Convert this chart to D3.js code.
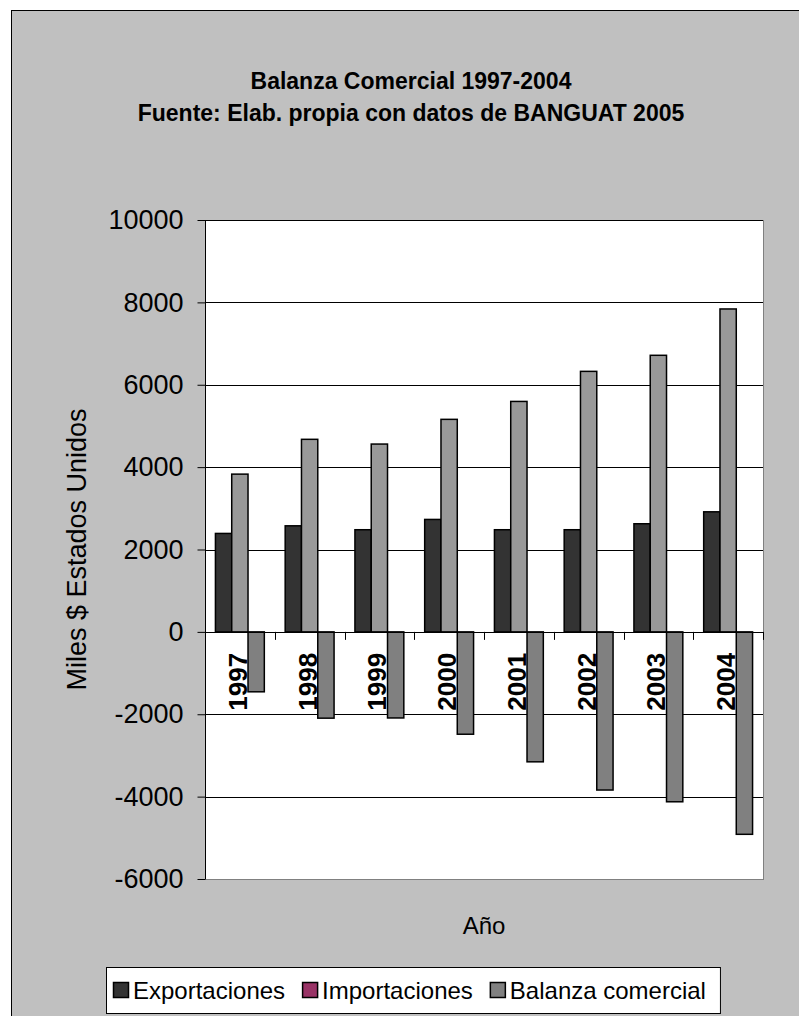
<!DOCTYPE html>
<html>
<head>
<meta charset="utf-8">
<script src="https://cdn.jsdelivr.net/npm/d3@7"></script>
<style>
  html, body { margin: 0; padding: 0; background: #ffffff; }
  svg { display: block; font-family: "Liberation Sans", Arial, sans-serif; }
</style>
</head>
<body>
<svg id="chart" width="799" height="1016"></svg>
<script>
// ---- data ----
const years = ["1997", "1998", "1999", "2000", "2001", "2002", "2003", "2004"];
const exportaciones = [2390, 2575, 2480, 2730, 2480, 2480, 2625, 2915];
const importaciones = [3830, 4675, 4560, 5160, 5595, 6325, 6715, 7840];
const balanza = [-1455, -2095, -2090, -2485, -3155, -3840, -4125, -4915];
const seriesNames = ["Exportaciones", "Importaciones", "Balanza comercial"];
const barColors = ["#333333", "#999999", "#808080"];
const legendColors = ["#333333", "#993366", "#808080"];
const yTicks = [-6000, -4000, -2000, 0, 2000, 4000, 6000, 8000, 10000];
const titleLines = ["Balanza Comercial 1997-2004", "Fuente: Elab. propia con datos de BANGUAT 2005"];
const yTitle = "Miles $ Estados Unidos";
const xTitle = "Año";

const seriesValues = [exportaciones, importaciones, balanza];

const svg = d3.select("#chart");

// chart area (extends past the right/bottom edge of the picture)
svg.append("rect")
  .attr("x", 11.5).attr("y", 10.5)
  .attr("width", 800).attr("height", 1020)
  .attr("fill", "#c0c0c0").attr("stroke", "#000").attr("stroke-width", 1);

const plot = { left: 205, right: 763, top: 220, bottom: 879 };

const x = d3.scaleBand().domain(years).range([plot.left, plot.right]).padding(0);
const xs = d3.scaleBand().domain(d3.range(3)).range([0, x.bandwidth()])
  .paddingInner(0).paddingOuter(0.64);
const y = d3.scaleLinear().domain([-6000, 10000]).range([plot.bottom, plot.top]);

// plot area
svg.append("rect")
  .attr("x", plot.left + 0.5).attr("y", plot.top + 0.5)
  .attr("width", plot.right - plot.left).attr("height", plot.bottom - plot.top)
  .attr("fill", "#ffffff").attr("stroke", "#808080").attr("stroke-width", 1);

// gridlines
svg.append("g").selectAll("line")
  .data(yTicks.filter(t => t !== 0 && t !== -6000))
  .join("line")
  .attr("x1", plot.left).attr("x2", plot.right)
  .attr("y1", d => Math.round(y(d)) + 0.5).attr("y2", d => Math.round(y(d)) + 0.5)
  .attr("stroke", "#000").attr("stroke-width", 1);

// bars
const barData = [];
years.forEach((yr, i) => {
  seriesValues.forEach((vals, s) => {
    barData.push({ year: yr, s: s, v: vals[i] });
  });
});
svg.append("g").selectAll("rect")
  .data(barData)
  .join("rect")
  .attr("x", d => x(d.year) + xs(d.s))
  .attr("width", xs.bandwidth())
  .attr("y", d => y(Math.max(0, d.v)))
  .attr("height", d => Math.abs(y(d.v) - y(0)))
  .attr("fill", d => barColors[d.s])
  .attr("stroke", "#000").attr("stroke-width", 1.5);

// y axis
const yAxis = d3.axisLeft(y).tickValues(yTicks).tickSize(8).tickPadding(14).tickFormat(d => String(d));
const gy = svg.append("g").attr("transform", `translate(${plot.left + 0.5},0)`).call(yAxis);
gy.select(".domain").attr("stroke", "#000").attr("d", `M0,${plot.top}V${plot.bottom}`);
gy.selectAll(".tick line").attr("stroke", "#000");
gy.selectAll(".tick text")
  .attr("font-size", 27).attr("fill", "#000")
  .attr("font-family", "'Liberation Sans', Arial, sans-serif");

// x axis on zero line
const xAxis = d3.axisBottom(x).tickSize(0).tickFormat("");
const gx = svg.append("g").attr("transform", `translate(0,${Math.round(y(0)) + 0.5})`).call(xAxis);
gx.select(".domain").attr("stroke", "#000").attr("d", `M${plot.left},0H${plot.right}`);
// category boundary tick marks
svg.append("g").selectAll("line")
  .data(years.concat(["end"]))
  .join("line")
  .attr("x1", (d, i) => Math.round(plot.left + i * x.step()) + 0.5)
  .attr("x2", (d, i) => Math.round(plot.left + i * x.step()) + 0.5)
  .attr("y1", y(0)).attr("y2", y(0) + 8)
  .attr("stroke", "#000").attr("stroke-width", 1);

// rotated year labels
svg.append("g").selectAll("text")
  .data(years)
  .join("text")
  .attr("transform", d => `translate(${x(d) + x.bandwidth() / 2 + 7},${y(0) + 21}) rotate(-90)`)
  .attr("text-anchor", "end")
  .attr("font-size", 26).attr("font-weight", "bold").attr("fill", "#000")
  .text(d => d);

// titles
svg.append("g").selectAll("text")
  .data(titleLines)
  .join("text")
  .attr("x", 411).attr("y", (d, i) => 89 + i * 32)
  .attr("text-anchor", "middle")
  .attr("font-size", 23).attr("font-weight", "bold").attr("fill", "#000")
  .text(d => d);

// y axis title
svg.append("text")
  .attr("transform", `translate(86,${(plot.top + plot.bottom) / 2}) rotate(-90)`)
  .attr("text-anchor", "middle")
  .attr("font-size", 27).attr("fill", "#000")
  .text(yTitle);

// x axis title
svg.append("text")
  .attr("x", (plot.left + plot.right) / 2).attr("y", 934)
  .attr("text-anchor", "middle")
  .attr("font-size", 24).attr("fill", "#000")
  .text(xTitle);

// legend
const lg = svg.append("g");
const box = lg.append("rect").attr("fill", "#fff").attr("stroke", "#000").attr("stroke-width", 1);
let cx = 113;
const lgTop = 967, lgBottom = 1013, lgMid = (lgTop + lgBottom) / 2;
seriesNames.forEach((name, i) => {
  lg.append("rect")
    .attr("x", cx + 0.5).attr("y", Math.round(lgMid - 8) + 0.5)
    .attr("width", 15).attr("height", 15)
    .attr("fill", legendColors[i]).attr("stroke", "#000").attr("stroke-width", 1.5);
  const t = lg.append("text")
    .attr("x", cx + 20).attr("y", lgMid + 8.5)
    .attr("font-size", 24).attr("fill", "#000")
    .text(name);
  const w = t.node().getComputedTextLength();
  cx = cx + 20 + w + 17;
});
box.attr("x", 106.5).attr("y", lgTop + 0.5)
  .attr("width", cx - 17 + 14 - 106).attr("height", lgBottom - lgTop);
</script>
</body>
</html>
